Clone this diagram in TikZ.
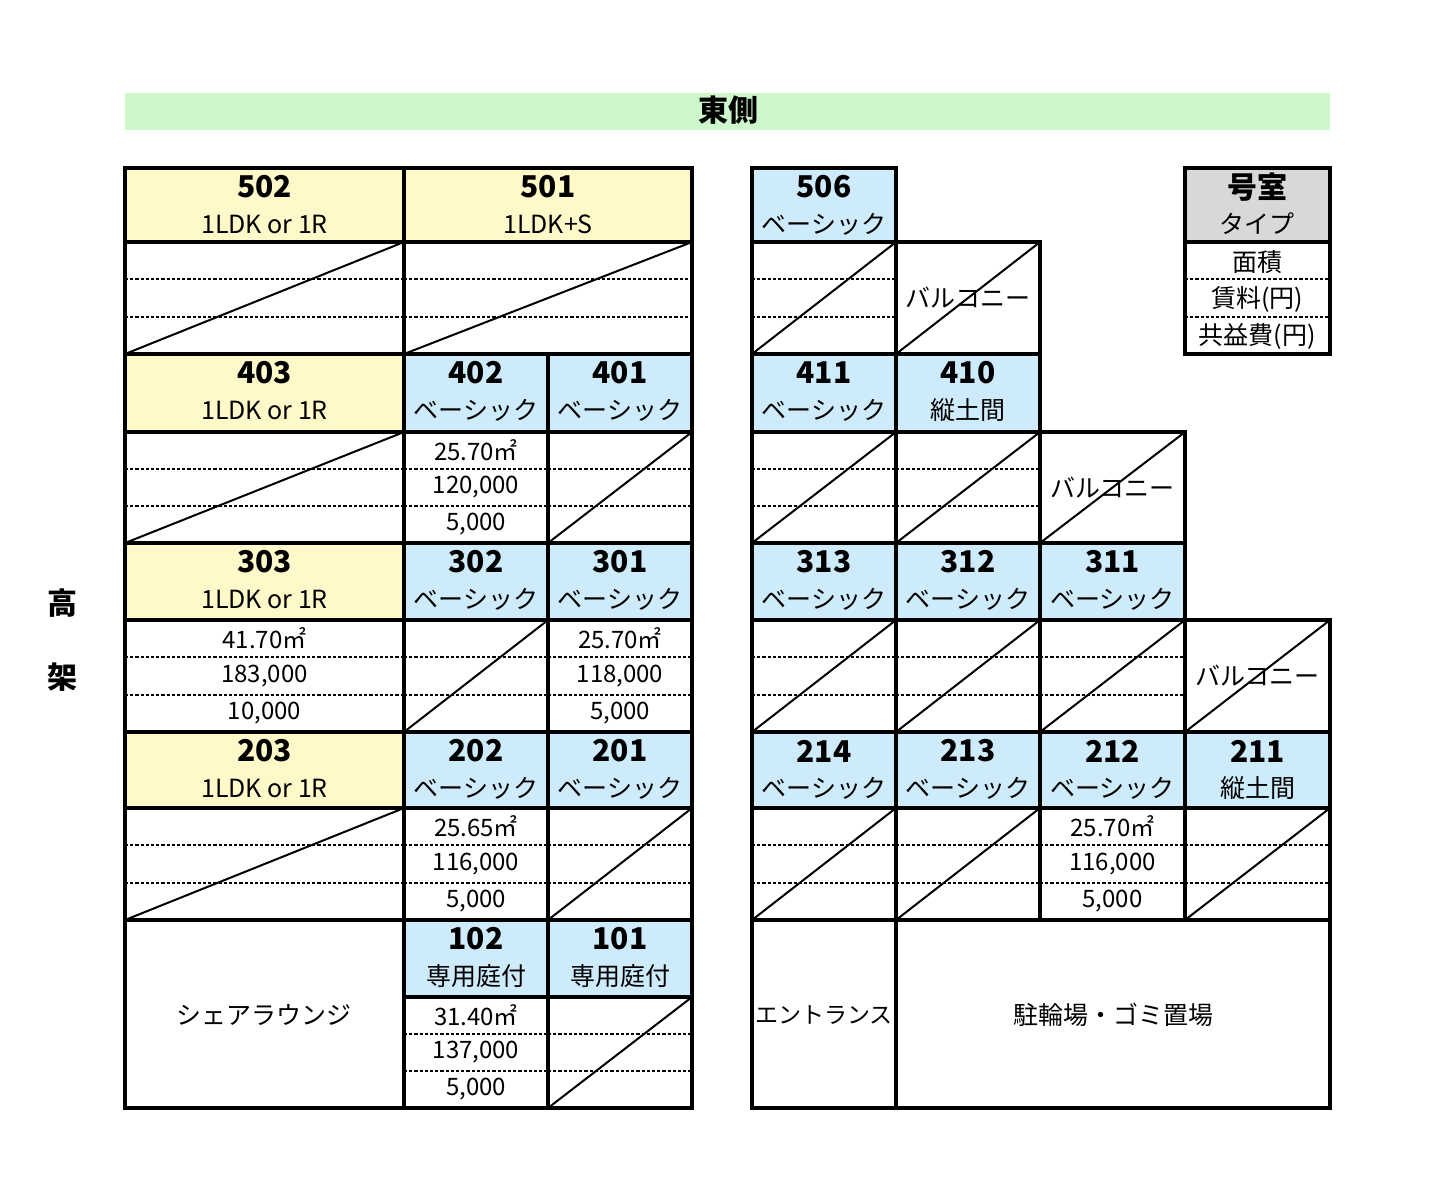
\documentclass[tikz,border=0pt]{standalone}
\usepackage{fontspec}
\setmainfont{Noto Sans CJK JP}
\definecolor{yel}{HTML}{FFF8C8}
\definecolor{blu}{HTML}{CDEBFB}
\definecolor{gry}{HTML}{D8D8D8}
\definecolor{grn}{HTML}{CCF8CC}
\tikzset{
 bx/.style={line width=1.6pt},
 ln/.style={line width=1pt},
 dl/.style={line width=1pt,dash pattern=on 1.6pt off 1pt},
 num/.style={font=\fontsize{15}{16}\selectfont\bfseries},
 typ/.style={font=\fontsize{12.5}{14}\selectfont},
 val/.style={font=\fontsize{12}{13}\selectfont},
}
\newcommand\rmhead[7]{\filldraw[bx,fill=#5] (#1,#3) rectangle (#2,#4);
 \node[num] at ({(#1+#2)/2},{#3+19}) {#6};
 \node[typ] at ({(#1+#2)/2},{#3+56}) {#7};}
\newcommand\dcell[4]{\draw[bx] (#1,#3) rectangle (#2,#4);
 \draw[dl] (#1,{#3+(#4-#3)/3}) -- (#2,{#3+(#4-#3)/3});
 \draw[dl] (#1,{#3+2*(#4-#3)/3}) -- (#2,{#3+2*(#4-#3)/3});}
\newcommand\dg[4]{\draw[ln] (#1,#4) -- (#2,#3);}
\newcommand\vals[7]{\node[val] at ({(#1+#2)/2},{#3+(#4-#3)/6}) {#5};
 \node[val] at ({(#1+#2)/2},{#3+(#4-#3)/2}) {#6};
 \node[val] at ({(#1+#2)/2},{#3+5*(#4-#3)/6}) {#7};}
\newcommand\balc[4]{\draw[bx] (#1,#3) -- (#2,#3) -- (#2,#4) -- (#1,#4);
 \draw[dl] (#1,#3) -- (#1,#4); \dg{#1}{#2}{#3}{#4}
 \node[typ] at ({(#1+#2)/2},{(#3+#4)/2}) {バルコニー};}
\begin{document}
\begin{tikzpicture}[x=0.5pt,y=-0.5pt]
\useasboundingbox (0,0) rectangle (1450,1200);
\fill[grn] (125,93) rectangle (1330,130);
\node[num] at (728,110) {東側};
\node[num] at (62,603) {高};
\node[num] at (62,677) {架};
% 5F
\rmhead{125}{404}{168}{242}{yel}{502}{1LDK or 1R}
\rmhead{404}{692}{168}{242}{yel}{501}{1LDK+S}
\dcell{125}{404}{242}{354}\dcell{404}{692}{242}{354}
\dg{125}{404}{242}{354}\dg{404}{692}{242}{354}
% 4F
\rmhead{125}{404}{354}{432}{yel}{403}{1LDK or 1R}
\rmhead{404}{548}{354}{432}{blu}{402}{ベーシック}
\rmhead{548}{692}{354}{432}{blu}{401}{ベーシック}
\dcell{125}{404}{432}{543}\dcell{404}{548}{432}{543}\dcell{548}{692}{432}{543}
\dg{125}{404}{432}{543}\vals{404}{548}{432}{543}{25.70㎡}{120,000}{5,000}\dg{548}{692}{432}{543}
% 3F
\rmhead{125}{404}{543}{620}{yel}{303}{1LDK or 1R}
\rmhead{404}{548}{543}{620}{blu}{302}{ベーシック}
\rmhead{548}{692}{543}{620}{blu}{301}{ベーシック}
\dcell{125}{404}{620}{732}\dcell{404}{548}{620}{732}\dcell{548}{692}{620}{732}
\vals{125}{404}{620}{732}{41.70㎡}{183,000}{10,000}\dg{404}{548}{620}{732}\vals{548}{692}{620}{732}{25.70㎡}{118,000}{5,000}
% 2F
\rmhead{125}{404}{732}{808}{yel}{203}{1LDK or 1R}
\rmhead{404}{548}{732}{808}{blu}{202}{ベーシック}
\rmhead{548}{692}{732}{808}{blu}{201}{ベーシック}
\dcell{125}{404}{808}{920}\dcell{404}{548}{808}{920}\dcell{548}{692}{808}{920}
\dg{125}{404}{808}{920}\vals{404}{548}{808}{920}{25.65㎡}{116,000}{5,000}\dg{548}{692}{808}{920}
% 1F
\draw[bx] (125,920) rectangle (404,1108);
\node[typ] at (264,1015) {シェアラウンジ};
\rmhead{404}{548}{920}{997}{blu}{102}{専用庭付}
\rmhead{548}{692}{920}{997}{blu}{101}{専用庭付}
\dcell{404}{548}{997}{1108}\dcell{548}{692}{997}{1108}
\vals{404}{548}{997}{1108}{31.40㎡}{137,000}{5,000}\dg{548}{692}{997}{1108}
% right 5F
\rmhead{752}{896}{168}{242}{blu}{506}{ベーシック}
\dcell{752}{896}{242}{354}\dg{752}{896}{242}{354}
\balc{896}{1040}{242}{354}
\filldraw[bx,fill=gry] (1185,168) rectangle (1330,242);
\node[num] at (1257,187) {号室};
\node[typ] at (1257,224) {タイプ};
\dcell{1185}{1330}{242}{354}
\node[typ] at (1257,262) {面積};
\node[typ] at (1257,299) {賃料(円)};
\node[typ] at (1257,336) {共益費(円)};
% 4F
\rmhead{752}{896}{354}{432}{blu}{411}{ベーシック}
\rmhead{896}{1040}{354}{432}{blu}{410}{縦土間}
\dcell{752}{896}{432}{543}\dcell{896}{1040}{432}{543}
\dg{752}{896}{432}{543}\dg{896}{1040}{432}{543}
\balc{1040}{1185}{432}{543}
% 3F
\rmhead{752}{896}{543}{620}{blu}{313}{ベーシック}
\rmhead{896}{1040}{543}{620}{blu}{312}{ベーシック}
\rmhead{1040}{1185}{543}{620}{blu}{311}{ベーシック}
\dcell{752}{896}{620}{732}\dcell{896}{1040}{620}{732}\dcell{1040}{1185}{620}{732}
\dg{752}{896}{620}{732}\dg{896}{1040}{620}{732}\dg{1040}{1185}{620}{732}
\balc{1185}{1330}{620}{732}
% 2F
\rmhead{752}{896}{732}{808}{blu}{214}{ベーシック}
\rmhead{896}{1040}{732}{808}{blu}{213}{ベーシック}
\rmhead{1040}{1185}{732}{808}{blu}{212}{ベーシック}
\rmhead{1185}{1330}{732}{808}{blu}{211}{縦土間}
\dcell{752}{896}{808}{920}\dcell{896}{1040}{808}{920}\dcell{1040}{1185}{808}{920}\dcell{1185}{1330}{808}{920}
\dg{752}{896}{808}{920}\dg{896}{1040}{808}{920}\vals{1040}{1185}{808}{920}{25.70㎡}{116,000}{5,000}\dg{1185}{1330}{808}{920}
% 1F
\draw[bx] (752,920) rectangle (896,1108);
\node[typ,font=\fontsize{11.5}{13}\selectfont] at (824,1015) {エントランス};
\draw[bx] (896,920) rectangle (1330,1108);
\node[typ] at (1113,1015) {駐輪場・ゴミ置場};
\end{tikzpicture}
\end{document}
